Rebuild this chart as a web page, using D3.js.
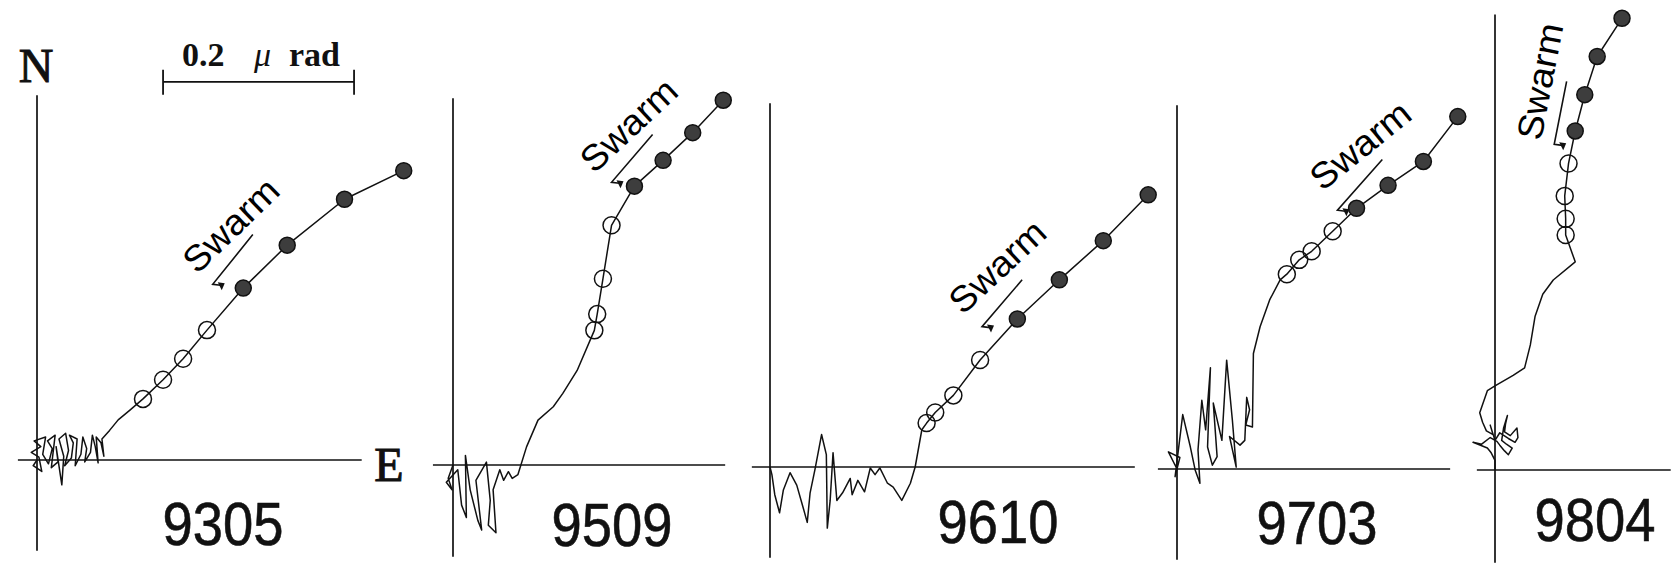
<!DOCTYPE html>
<html>
<head>
<meta charset="utf-8">
<script src="https://cdn.jsdelivr.net/npm/d3@7"></script>
<style>
  body { margin: 0; background: #fff; }
  svg { display: block; }
</style>
</head>
<body>
<svg id="chart" width="1671" height="563"></svg>
<script>
// tilt vectors in nrad (x = E, y = N), 0.2 urad = 200 nrad
const trail9305 = [[0,0],[-4,-6],[5,-12],[2,3],[-6,8],[4,14],[-3,20],[9,24],[6,6],[12,-4],[16,12],[11,20],[19,26],[15,-8],[22,-2],[20,14],[26,-26],[28,4],[23,22],[30,28],[33,10],[29,-6],[36,2],[38,18],[34,26],[42,22],[40,-6],[46,6],[48,24],[52,12],[50,-2],[56,8],[58,26],[61,14],[64,-3],[62,24],[67,18],[70,4],[68,22],[76,31],[85,42],[97,52]]
const open9305 = [[111,64],[132,84],[153,106],[178,136]]
const filled9305 = [[216,180],[262,225],[322,273],[384,303]]

const trail9509 = [[0,0],[-5,-14],[-1,-26],[-7,-18],[5,-5],[9,-42],[14,-55],[13,10],[18,-26],[26,-58],[30,-68],[24,-16],[35,3],[39,-37],[37,-63],[45,-71],[42,-26],[49,-5],[53,-16],[58,-7],[62,-14],[68,-10],[77,19],[89,47],[105,61],[115,75],[130,99]]
const open9509 = [[148,141],[151,158],[157,195],[166,251]]
const filled9509 = [[190,292],[220,319],[251,348],[283,382]]

const trail9610 = [[0,0],[2,-8],[5,-29],[10,-48],[14,-24],[21,-6],[28,-19],[34,-40],[39,-58],[42,-27],[47,-3],[54,34],[59,13],[60,-64],[63,-35],[66,15],[70,-35],[76,-27],[84,-12],[86,-29],[92,-14],[99,-26],[105,-1],[110,-8],[115,-1],[123,-17],[129,-21],[138,-35],[147,-17],[152,0],[159,39]]
const open9610 = [[164,46],[173,57],[192,75],[220,112]]
const filled9610 = [[259,155],[303,196],[349,237],[396,285]]

const trail9703 = [[0,0],[-9,18],[3,12],[-2,-8],[6,57],[14,23],[19,-1],[24,-15],[22,20],[26,72],[30,41],[35,106],[32,23],[37,4],[42,13],[38,69],[47,30],[52,114],[58,51],[62,2],[55,34],[66,25],[71,30],[73,75],[76,62],[72,46],[79,44],[80,121],[87,149],[97,177],[108,198]]
const open9703 = [[115,204],[128,219],[141,228],[163,249]]
const filled9703 = [[188,273],[221,297],[258,322],[294,369]]

const trail9804 = [[0,0],[0,10],[-4,18],[-8,23],[-23,29],[-14,27],[-5,34],[2,30],[5,26],[10,20],[14,16],[18,23],[12,27],[7,31],[9,44],[13,57],[11,48],[10,40],[16,36],[23,44],[24,34],[21,29],[14,33],[5,39],[0,31],[-5,47],[-2,37],[-9,41],[-13,50],[-16,60],[-8,83],[0,88],[19,99],[31,107],[37,131],[42,161],[50,184],[61,199],[84,218]]
const open9804 = [[74,246],[74,263],[73,287],[77,321]]
const filled9804 = [[84,355],[94,393],[107,433],[133,473]]

const panelIds = ["9305","9509","9610","9703","9804"]

// layout
const K = 191 / 200 // px per nrad
const panels = [
  {id:"9305", trail:trail9305, open:open9305, filled:filled9305, ox:37, oy:460, xExt:[-20,340], yExt:[-95,382],
   swarm:{t:[203,246], rot:-44, a0:[226,236], a1:[184,184]}, lx:223, ly:545},
  {id:"9509", trail:trail9509, open:open9509, filled:filled9509, ox:453, oy:465, xExt:[-21,285], yExt:[-96,384],
   swarm:{t:[184,356], rot:-43, a0:[209,346], a1:[166,296]}, lx:612, ly:546},
  {id:"9610", trail:trail9610, open:open9610, filled:filled9610, ox:770, oy:467, xExt:[-19,382], yExt:[-95,381],
   swarm:{t:[238,210], rot:-43, a0:[264,196], a1:[222,147]}, lx:998, ly:543},
  {id:"9703", trail:trail9703, open:open9703, filled:filled9703, ox:1177, oy:469, xExt:[-20,286], yExt:[-95,381],
   swarm:{t:[192,339], rot:-39, a0:[215,324], a1:[168,271]}, lx:1317, ly:544},
  {id:"9804", trail:trail9804, open:open9804, filled:filled9804, ox:1495, oy:470, xExt:[-19,184], yExt:[-97,477],
   swarm:{t:[47,407], rot:-79, a0:[75,407], a1:[62,341]}, lx:1595, ly:541}
]

const svg = d3.select('#chart')
svg.append('rect').attr('width',1671).attr('height',563).attr('fill','#fff')

panels.forEach(p => {
  const x = d3.scaleLinear().domain([0,200]).range([p.ox, p.ox + 200*K])
  const y = d3.scaleLinear().domain([0,200]).range([p.oy, p.oy - 200*K])
  const g = svg.append('g').attr('class','panel-' + p.id)

  // axes
  g.append('line')
    .attr('x1', x(0)).attr('x2', x(0))
    .attr('y1', y(p.yExt[0])).attr('y2', y(p.yExt[1]))
    .attr('stroke','#111').attr('stroke-width',1.7)
  g.append('line')
    .attr('x1', x(p.xExt[0])).attr('x2', x(p.xExt[1]))
    .attr('y1', y(0)).attr('y2', y(0))
    .attr('stroke','#111').attr('stroke-width',1.7)

  // tilt trace
  const line = d3.line().x(d => x(d[0])).y(d => y(d[1]))
  g.append('path')
    .attr('d', line(p.trail.concat(p.open, p.filled)))
    .attr('fill','none').attr('stroke','#111').attr('stroke-width',1.5)
    .attr('stroke-linejoin','round')

  g.selectAll('circle.open').data(p.open).join('circle')
    .attr('class','open')
    .attr('cx', d => x(d[0])).attr('cy', d => y(d[1])).attr('r', 8.5)
    .attr('fill','none').attr('stroke','#111').attr('stroke-width',1.5)

  g.selectAll('circle.filled').data(p.filled).join('circle')
    .attr('class','filled')
    .attr('cx', d => x(d[0])).attr('cy', d => y(d[1])).attr('r', 8)
    .attr('fill','#3d3d3d').attr('stroke','#111').attr('stroke-width',1.5)

  // swarm annotation
  const s = p.swarm
  g.append('text')
    .attr('transform', `translate(${x(s.t[0])},${y(s.t[1])}) rotate(${s.rot})`)
    .attr('text-anchor','middle').attr('dominant-baseline','central')
    .attr('font-family','Liberation Sans, Arial, sans-serif')
    .attr('font-size',36)
    .attr('textLength',118).attr('lengthAdjust','spacingAndGlyphs')
    .text('Swarm')
  const ex = x(s.a1[0]), ey = y(s.a1[1])
  g.append('path')
    .attr('d', `M${x(s.a0[0])},${y(s.a0[1])}L${ex},${ey}L${ex+8},${ey+1}`)
    .attr('fill','none').attr('stroke','#111').attr('stroke-width',1.6)
  g.append('path')
    .attr('d', `M${ex+5},${ey-2}L${ex+12},${ey-1}L${ex+9},${ey+6}Z`)
    .attr('fill','#111')

  // panel number
  g.append('text')
    .attr('x', p.lx).attr('y', p.ly)
    .attr('text-anchor','middle')
    .attr('font-family','Liberation Sans, Arial, sans-serif')
    .attr('font-size',62)
    .attr('textLength',121).attr('lengthAdjust','spacingAndGlyphs')
    .attr('fill','#111').attr('stroke','#111').attr('stroke-width',0.6)
    .text(p.id)
})

// N / E labels and scale bar on first panel
const p0 = panels[0]
const x0 = d3.scaleLinear().domain([0,200]).range([p0.ox, p0.ox + 200*K])
const y0 = d3.scaleLinear().domain([0,200]).range([p0.oy, p0.oy - 200*K])

svg.append('text').attr('x',36).attr('y',82)
  .attr('text-anchor','middle')
  .attr('font-family','Liberation Serif, Times New Roman, serif')
  .attr('font-size',48).attr('fill','#111').attr('stroke','#111').attr('stroke-width',1)
  .text('N')
svg.append('text').attr('x',389).attr('y',481)
  .attr('text-anchor','middle')
  .attr('font-family','Liberation Serif, Times New Roman, serif')
  .attr('font-size',48).attr('fill','#111').attr('stroke','#111').attr('stroke-width',1)
  .text('E')

const barY = y0(396)
svg.append('line')
  .attr('x1', x0(132)).attr('x2', x0(332))
  .attr('y1', barY).attr('y2', barY)
  .attr('stroke','#111').attr('stroke-width',1.8)
;[132,332].forEach(v => {
  svg.append('line')
    .attr('x1', x0(v)).attr('x2', x0(v))
    .attr('y1', barY - 12).attr('y2', barY + 13)
    .attr('stroke','#111').attr('stroke-width',1.8)
})
const bar = svg.append('text').attr('y',66)
  .attr('font-family','Liberation Serif, Times New Roman, serif')
  .attr('font-size',34).attr('font-weight','bold').attr('fill','#111')
bar.append('tspan').attr('x',182).text('0.2')
bar.append('tspan').attr('x',254).attr('font-style','italic').attr('font-weight','normal').text('μ')
bar.append('tspan').attr('x',289).text('rad')
</script>
</body>
</html>
